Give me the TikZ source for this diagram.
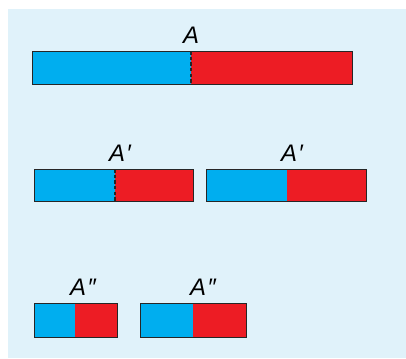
\documentclass[tikz,border=0pt]{standalone}
\usepackage{fontspec}
\setmainfont{Liberation Sans}
\definecolor{panelblue}{RGB}{224,242,250}
\definecolor{partblue}{RGB}{0,174,239}
\definecolor{partred}{RGB}{237,28,36}
\tikzset{
  rim/.style={draw=black!85,line width=0.6pt},
  cut/.style={black!85,line width=0.9pt,dash pattern=on 2.5pt off 1.5pt},
  tag/.style={font=\fontsize{17}{19}\selectfont\itshape,inner sep=0pt}
}

\begin{document}
\begin{tikzpicture}[x=0.025cm,y=-0.025cm]
  \useasboundingbox (0,0) rectangle (406,358);
  \fill[panelblue] (8,9) rectangle (406,358);
  % whole bar
  \fill[partblue] (32,51) rectangle (191,84);
  \fill[partred] (191,51) rectangle (352,84);
  \draw[rim] (32,51) rectangle (352,84);
  \draw[cut] (191,51) -- (191,84);
  \node[tag] (a) at (191,35) {A};
  % halves
  \fill[partblue] (34,169) rectangle (115,201);
  \fill[partred] (115,169) rectangle (193,201);
  \draw[rim] (34,169) rectangle (193,201);
  \draw[cut] (115,169) -- (115,201);
  \node[tag] (a1) at (120,153) {A\kern1pt′};
  \fill[partblue] (206,169) rectangle (287,201);
  \fill[partred] (287,169) rectangle (366,201);
  \draw[rim] (206,169) rectangle (366,201);
  \node[tag] (a2) at (292,153) {A\kern1pt′};
  % quarters
  \fill[partblue] (34,303) rectangle (75,337);
  \fill[partred] (75,303) rectangle (117,337);
  \draw[rim] (34,303) rectangle (117,337);
  \node[tag] (a3) at (83,287) {A\kern1pt″};
  \fill[partblue] (140,303) rectangle (193,337);
  \fill[partred] (193,303) rectangle (246,337);
  \draw[rim] (140,303) rectangle (246,337);
  \node[tag] (a4) at (203,287) {A\kern1pt″};
\end{tikzpicture}
\end{document}
